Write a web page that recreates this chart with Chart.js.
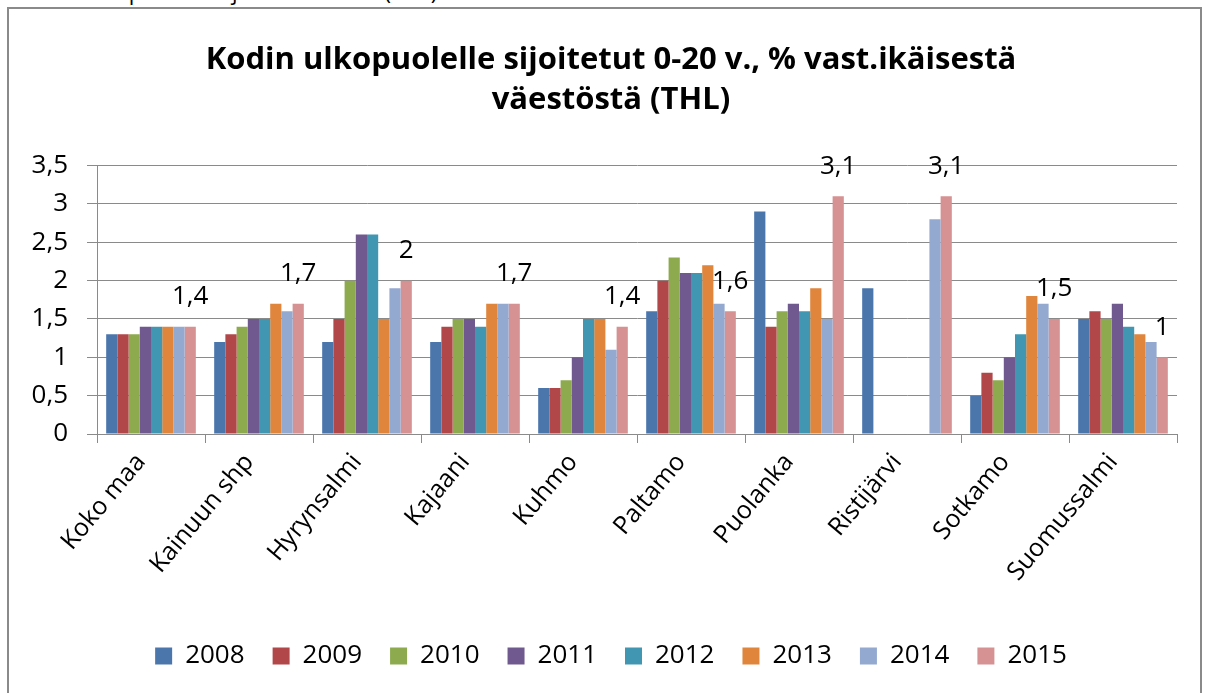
<!DOCTYPE html>
<html>
<head>
<meta charset="utf-8">
<script src="https://cdn.jsdelivr.net/npm/chart.js@4.4.1/dist/chart.umd.min.js"></script>
<style>
  html, body { margin: 0; padding: 0; background: #fff; }
  #wrap { position: relative; width: 1210px; height: 693px; overflow: hidden; }
  #frame { position: absolute; left: 7px; top: 7px; width: 1195px; height: 700px; border: 2px solid #8a8a8a; box-sizing: border-box; pointer-events: none; }
  #cut { position: absolute; left: 20px; top: -24px; font: 22px "Open Sans", sans-serif; color: #000; white-space: nowrap; }
  canvas { position: absolute; left: 0; top: 0; }
</style>
</head>
<body>
<div id="wrap">
  <div id="cut">Kodin ulkopuolelle sijoitetut 0-20 v. (THL)</div>
  <canvas id="c" width="1210" height="693"></canvas>
  <div id="frame"></div>
</div>
<script>
const categories = ['Koko maa', 'Kainuun shp', 'Hyrynsalmi', 'Kajaani', 'Kuhmo', 'Paltamo', 'Puolanka', 'Ristijärvi', 'Sotkamo', 'Suomussalmi'];
const years = ['2008', '2009', '2010', '2011', '2012', '2013', '2014', '2015'];
const v2008 = [1.3, 1.2, 1.2, 1.2, 0.6, 1.6, 2.9, 1.9, 0.5, 1.5];
const v2009 = [1.3, 1.3, 1.5, 1.4, 0.6, 2.0, 1.4, null, 0.8, 1.6];
const v2010 = [1.3, 1.4, 2.0, 1.5, 0.7, 2.3, 1.6, null, 0.7, 1.5];
const v2011 = [1.4, 1.5, 2.6, 1.5, 1.0, 2.1, 1.7, null, 1.0, 1.7];
const v2012 = [1.4, 1.5, 2.6, 1.4, 1.5, 2.1, 1.6, null, 1.3, 1.4];
const v2013 = [1.4, 1.7, 1.5, 1.7, 1.5, 2.2, 1.9, null, 1.8, 1.3];
const v2014 = [1.4, 1.6, 1.9, 1.7, 1.1, 1.7, 1.5, 2.8, 1.7, 1.2];
const v2015 = [1.4, 1.7, 2.0, 1.7, 1.4, 1.6, 3.1, 3.1, 1.5, 1.0];
const yTickLabels = ['0', '0,5', '1', '1,5', '2', '2,5', '3', '3,5'];
const titleLines = ['Kodin ulkopuolelle sijoitetut 0-20 v., % vast.ikäisestä', 'väestöstä (THL)'];

const seriesValues = [v2008, v2009, v2010, v2011, v2012, v2013, v2014, v2015];
const colors = ['#4A76AC', '#B2474A', '#8DAA4E', '#70598F', '#4197B1', '#E0853C', '#93A9D0', '#D69192'];
const FONT = '"Open Sans", sans-serif';

const labelPlugin = {
  id: 'lastLabels',
  afterDatasetsDraw(chart) {
    const ctx = chart.ctx;
    const di = chart.data.datasets.length - 1;
    const meta = chart.getDatasetMeta(di);
    ctx.save();
    ctx.font = '26px ' + FONT;
    ctx.fillStyle = '#000';
    ctx.textAlign = 'center';
    ctx.textBaseline = 'middle';
    meta.data.forEach((bar, i) => {
      const v = chart.data.datasets[di].data[i];
      if (v == null) return;
      ctx.fillText(String(v).replace('.', ','), bar.x, bar.y - 30);
    });
    ctx.restore();
  }
};

new Chart(document.getElementById('c'), {
  type: 'bar',
  data: {
    labels: categories,
    datasets: years.map((y, i) => ({
      label: y,
      data: seriesValues[i],
      backgroundColor: colors[i],
      borderWidth: 0,
      yAxisID: 'y'
    }))
  },
  options: {
    responsive: false,
    animation: false,
    devicePixelRatio: 1,
    layout: { padding: { left: 12, right: 0, top: 0, bottom: 14 } },
    datasets: { bar: { categoryPercentage: 0.83, barPercentage: 1.0 } },
    plugins: {
      title: {
        display: true,
        text: titleLines,
        color: '#000',
        font: { family: FONT, size: 31, weight: 'bold', lineHeight: 1.3 },
        padding: { top: 40, bottom: 45 }
      },
      legend: {
        position: 'bottom',
        labels: {
          color: '#000',
          font: { family: FONT, size: 26 },
          boxWidth: 17,
          boxHeight: 17,
          padding: 28
        }
      },
      tooltip: { enabled: false }
    },
    scales: {
      x: {
        grid: { display: true, drawOnChartArea: false, offset: true, color: '#8a8a8a', tickLength: 9, tickColor: '#8a8a8a' },
        border: { color: '#8a8a8a', width: 1 },
        ticks: { color: '#000', font: { family: FONT, size: 25 }, minRotation: 50, maxRotation: 50, padding: 5, labelOffset: -10 },
        afterFit(s) { s.height = 181; }
      },
      y: {
        position: 'left',
        min: 0, max: 3.5,
        grid: { color: '#8a8a8a', tickLength: 10, tickColor: '#8a8a8a' },
        border: { color: '#8a8a8a', width: 1 },
        ticks: {
          stepSize: 0.5, color: '#000', font: { family: FONT, size: 26 }, padding: 19,
          callback: (v, i) => yTickLabels[i]
        },
        afterFit(s) { s.width = 85; }
      },
      yr: {
        position: 'right',
        display: true,
        min: 0, max: 3.5,
        grid: { display: false, drawOnChartArea: false, drawTicks: false },
        border: { display: false },
        ticks: { display: false },
        afterFit(s) { s.width = 33; }
      }
    }
  },
  plugins: [labelPlugin]
});
</script>
</body>
</html>
